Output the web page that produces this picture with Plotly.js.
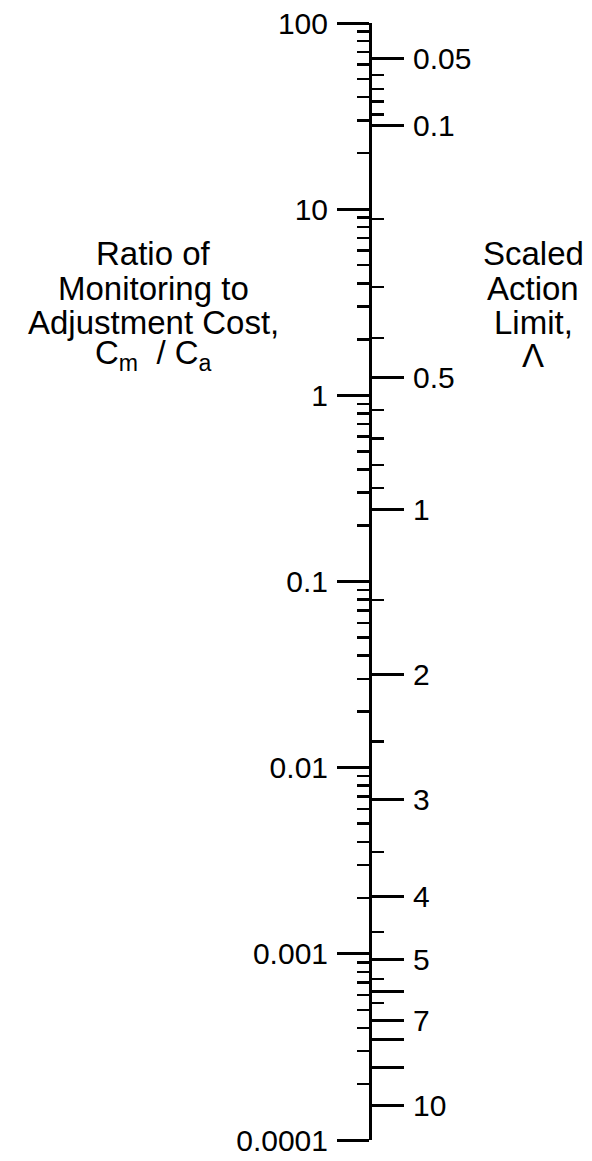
<!DOCTYPE html>
<html>
<head>
<meta charset="utf-8">
<script src="https://cdn.plot.ly/plotly-3.0.1.min.js"></script>
<style>html,body{margin:0;padding:0;background:#fff;}#chart{width:592px;height:1161px;}</style>
</head>
<body>
<div id="chart"></div>
<script>
// Left scale: ratio of monitoring to adjustment cost, Cm/Ca (log)
const cmcaTicks  = [0.0001, 0.001, 0.01, 0.1, 1, 10, 100];
const cmcaLabels = ['0.0001', '0.001', '0.01', '0.1', '1', '10', '100'];
const cmcaMinorDigits = [2, 3, 4, 5, 6, 7, 8, 9];

// Right scale: scaled action limit, Lambda, and the Cm/Ca value it sits at
const lambdaMajor      = [0.05, 0.1, 0.5, 1, 2, 3, 4, 5, 6, 7, 8, 9, 10];
const lambdaLabels     = ['0.05', '0.1', '0.5', '1', '2', '3', '4', '5', '', '7', '', '', '10'];
const lambdaMajorRatio = [64.6, 28.2, 1.248, 0.244, 0.0317, 0.00672, 0.00202, 0.000929, 0.000627, 0.000438, 0.000348, 0.000245, 0.000153];
const lambdaMinor      = [0.06, 0.07, 0.08, 0.09, 0.2, 0.3, 0.4, 0.6, 0.7, 0.8, 0.9, 1.5, 2.5, 3.5, 4.5, 5.5, 6.5];
const lambdaMinorRatio = [52.6, 44.2, 37.8, 32.3, 8.86, 3.82, 2.03, 0.835, 0.588, 0.423, 0.317, 0.0796, 0.0138, 0.00352, 0.00131, 0.000734, 0.000546];

const cmcaMinor = [];
cmcaTicks.slice(0, -1).forEach(d => cmcaMinorDigits.forEach(k => cmcaMinor.push(d * k)));

const FONT = 'Liberation Sans, Arial, Helvetica, sans-serif';
const W = 592, H = 1161, T = 23, B = 21;
const AXIS_X = 370 / W;
const py = px => (H - B - px) / (H - T - B);

const common = {
  type: 'log', range: [-4, 2], anchor: 'free', position: AXIS_X,
  showline: true, linecolor: '#000', linewidth: 3,
  ticks: 'outside', ticklen: 32, tickwidth: 3, tickcolor: '#000',
  showgrid: false, zeroline: false, tickmode: 'array',
  tickfont: {family: FONT, size: 30, color: '#000'},
  ticklabelstandoff: 3, fixedrange: true
};

const layout = {
  width: W, height: H,
  margin: {l: 0, r: 0, t: T, b: B},
  paper_bgcolor: '#fff', plot_bgcolor: '#fff',
  showlegend: false,
  xaxis: {range: [0, 1], visible: false, fixedrange: true},
  yaxis: Object.assign({}, common, {
    side: 'left', tickvals: cmcaTicks, ticktext: cmcaLabels,
    minor: {tickmode: 'array', tickvals: cmcaMinor, ticks: 'outside', ticklen: 12, tickwidth: 2.5, tickcolor: '#000', showgrid: false}
  }),
  yaxis2: Object.assign({}, common, {
    side: 'right', overlaying: 'y', tickvals: lambdaMajorRatio, ticktext: lambdaLabels,
    minor: {tickmode: 'array', tickvals: lambdaMinorRatio, ticks: 'outside', ticklen: 12, tickwidth: 2.5, tickcolor: '#000', showgrid: false}
  }),
  annotations: []
};

const leftTitle  = ['Ratio of', 'Monitoring to', 'Adjustment Cost,', 'C<sub>m</sub>  / C<sub>a</sub>'];
const rightTitle = ['Scaled', 'Action', 'Limit,', 'Λ'];
const lineY = [253, 289, 322, 355];
leftTitle.forEach((t, i) => layout.annotations.push({
  text: t, xref: 'paper', yref: 'paper', x: 153 / W, y: py(lineY[i]),
  xanchor: 'center', yanchor: 'middle', showarrow: false,
  font: {family: FONT, size: 33, color: '#000'}
}));
rightTitle.forEach((t, i) => layout.annotations.push({
  text: t, xref: 'paper', yref: 'paper', x: 533 / W, y: py(lineY[i]),
  xanchor: 'center', yanchor: 'middle', showarrow: false,
  font: {family: FONT, size: 33, color: '#000'}
}));

const traces = [
  {x: [], y: [], xaxis: 'x', yaxis: 'y', type: 'scatter', mode: 'markers', hoverinfo: 'skip'},
  {x: [], y: [], xaxis: 'x', yaxis: 'y2', type: 'scatter', mode: 'markers', hoverinfo: 'skip'}
];

Plotly.newPlot('chart', traces, layout, {staticPlot: true, displayModeBar: false});
</script>
</body>
</html>
